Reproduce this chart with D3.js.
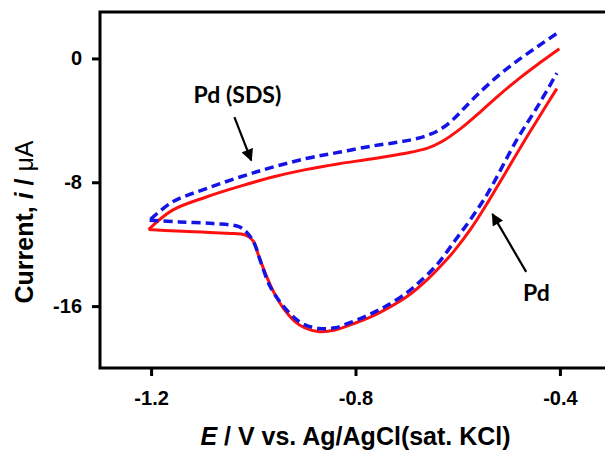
<!DOCTYPE html>
<html>
<head>
<meta charset="utf-8">
<script src="https://cdn.jsdelivr.net/npm/d3@7"></script>
<style>
  body { margin: 0; background: #fff; }
  svg { display: block; font-family: "Liberation Sans", Arial, sans-serif; }
  .axis text { font-size: 20px; font-weight: bold; fill: #000; }
  .axis line { stroke: #000; stroke-width: 3px; }
  .axis path { display: none; }
  .note { font-family: Lato, "Open Sans", sans-serif; font-weight: bold; font-size: 23px; }
</style>
</head>
<body>
<div id="cv-chart"></div>
<script>
// Pd electrode: potential (V) and current (uA); upper branch then lower branch
var pdUpperE = [-0.401, -0.44, -0.48, -0.52, -0.554, -0.593, -0.63, -0.659, -0.69, -0.724, -0.78, -0.832, -0.90, -0.962, -1.02, -1.092, -1.158, -1.205];
var pdUpperI = [0.63, -0.3, -1.3, -2.4, -3.4, -4.5, -5.35, -5.8, -6.05, -6.26, -6.55, -6.8, -7.2, -7.66, -8.2, -8.95, -9.8, -11.05];
var pdLowerE = [-1.205, -1.15, -1.10, -1.05, -1.015, -1.0, -0.99, -0.975, -0.96, -0.94, -0.92, -0.90, -0.87, -0.84, -0.805, -0.77, -0.74, -0.70, -0.66, -0.63, -0.606, -0.574, -0.541, -0.505, -0.469, -0.44, -0.406];
var pdLowerI = [-11.05, -11.15, -11.22, -11.3, -11.42, -11.8, -12.7, -14.0, -15.1, -16.2, -16.95, -17.4, -17.66, -17.55, -17.15, -16.7, -16.2, -15.4, -14.3, -13.3, -12.4, -11.0, -9.3, -7.3, -5.3, -3.75, -1.95];

// Pd (SDS) electrode
var sdsUpperE = [-0.407, -0.44, -0.479, -0.52, -0.56, -0.587, -0.606, -0.63, -0.659, -0.69, -0.724, -0.766, -0.83, -0.897, -0.995, -1.092, -1.158, -1.203];
var sdsUpperI = [1.59, 0.85, -0.05, -1.1, -2.3, -3.2, -3.85, -4.5, -4.97, -5.25, -5.45, -5.65, -6.05, -6.47, -7.34, -8.41, -9.27, -10.45];
var sdsLowerE = [-1.203, -1.145, -1.079, -1.027, -1.011, -0.998, -0.985, -0.969, -0.955, -0.94, -0.92, -0.90, -0.871, -0.84, -0.805, -0.77, -0.74, -0.70, -0.675, -0.64, -0.606, -0.574, -0.541, -0.485, -0.44, -0.406];
var sdsLowerI = [-10.45, -10.56, -10.67, -10.88, -11.3, -11.96, -13.2, -14.6, -15.4, -16.05, -16.75, -17.2, -17.45, -17.4, -17.0, -16.5, -16.0, -15.15, -14.45, -13.3, -11.8, -10.35, -8.7, -5.3, -2.9, -0.95];

var xTicks = [-1.2, -0.8, -0.4],
    yTicks = [0, -8, -16];

// annotation arrows in data units: [textE, textI, fromE, fromI, toE, toI]
var noteLabels = ["Pd (SDS)", "Pd"];
var notePos = [[-1.031, -2.9, -1.037, -3.79, -1.004, -6.58],
               [-0.446, -15.66, -0.466, -13.79, -0.532, -10.06]];

var margins = { top: 12, left: 100, bottom: 87 },
    totalW = 605, totalH = 455,
    plotRight = 611;

var svg = d3.select("#cv-chart")
    .append("svg")
    .attr("width", totalW)
    .attr("height", totalH);

var x = d3.scaleLinear().domain([-1.3, -0.3]).range([margins.left, plotRight]);
var y = d3.scaleLinear().domain([-20, 3]).range([totalH - margins.bottom, margins.top]);

// plain hyphen instead of unicode minus, like the original
function hyphen(fmt) {
    return function(d) { return fmt(d).replace("\u2212", "-"); };
}

// arrow head
svg.append("defs").append("marker")
    .attr("id", "head")
    .attr("viewBox", "0 0 10 10")
    .attr("refX", 9).attr("refY", 5)
    .attr("markerWidth", 6).attr("markerHeight", 5.5)
    .attr("markerUnits", "strokeWidth")
    .attr("orient", "auto")
    .append("path")
    .attr("d", "M0,0 L10,5 L0,10 Z")
    .attr("fill", "#000");

// axes
svg.append("g")
    .attr("class", "axis")
    .attr("transform", "translate(" + margins.left + ",0)")
    .call(d3.axisLeft(y).tickValues(yTicks).tickSize(8).tickPadding(10).tickFormat(hyphen(d3.format("d"))));

svg.append("g")
    .attr("class", "axis")
    .attr("transform", "translate(0," + y(-20) + ")")
    .call(d3.axisBottom(x).tickValues(xTicks).tickSize(8).tickPadding(15).tickFormat(hyphen(d3.format(".1f"))));

// frame
svg.append("rect")
    .attr("x", x(-1.3)).attr("y", y(3))
    .attr("width", x(-0.3) - x(-1.3))
    .attr("height", y(-20) - y(3))
    .attr("fill", "none")
    .attr("stroke", "#000")
    .attr("stroke-width", 3);

var line = d3.line()
    .x(function(d) { return x(d[0]); })
    .y(function(d) { return y(d[1]); })
    .curve(d3.curveCatmullRom.alpha(0.5));

function pairs(es, is) {
    return es.map(function(e, i) { return [e, is[i]]; });
}

// each branch drawn on its own so the turning point stays sharp
[pairs(pdUpperE, pdUpperI), pairs(pdLowerE, pdLowerI)].forEach(function(branch) {
    svg.append("path")
        .datum(branch)
        .attr("d", line)
        .attr("fill", "none")
        .attr("stroke", "#ff1010")
        .attr("stroke-width", 3)
        .attr("stroke-linejoin", "round");
});

[pairs(sdsUpperE, sdsUpperI), pairs(sdsLowerE, sdsLowerI)].forEach(function(branch) {
    svg.append("path")
        .datum(branch)
        .attr("d", line)
        .attr("fill", "none")
        .attr("stroke", "#1414e6")
        .attr("stroke-width", 3.5)
        .attr("stroke-dasharray", "9,5");
});

// annotations
notePos.forEach(function(p, i) {
    svg.append("line")
        .attr("x1", x(p[2])).attr("y1", y(p[3]))
        .attr("x2", x(p[4])).attr("y2", y(p[5]))
        .attr("stroke", "#000")
        .attr("stroke-width", 2.2)
        .attr("marker-end", "url(#head)");
    svg.append("text")
        .attr("class", "note")
        .attr("x", x(p[0])).attr("y", y(p[1]))
        .attr("text-anchor", "middle")
        .text(noteLabels[i]);
});

// axis titles
var xt = svg.append("text")
    .attr("x", x(-0.8)).attr("y", 445)
    .attr("text-anchor", "middle")
    .attr("font-size", 25).attr("font-weight", "bold");
xt.append("tspan").attr("font-style", "italic").text("E");
xt.append("tspan").text(" / V vs. Ag/AgCl(sat. KCl)");

var yt = svg.append("text")
    .attr("transform", "translate(33,222) rotate(-90)")
    .attr("text-anchor", "middle")
    .attr("font-size", 25).attr("font-weight", "bold");
yt.append("tspan").text("Current, ");
yt.append("tspan").attr("font-style", "italic").text("i");
yt.append("tspan").text(" / ");
yt.append("tspan").attr("font-weight", "normal").text("\u03bcA");
</script>
</body>
</html>
